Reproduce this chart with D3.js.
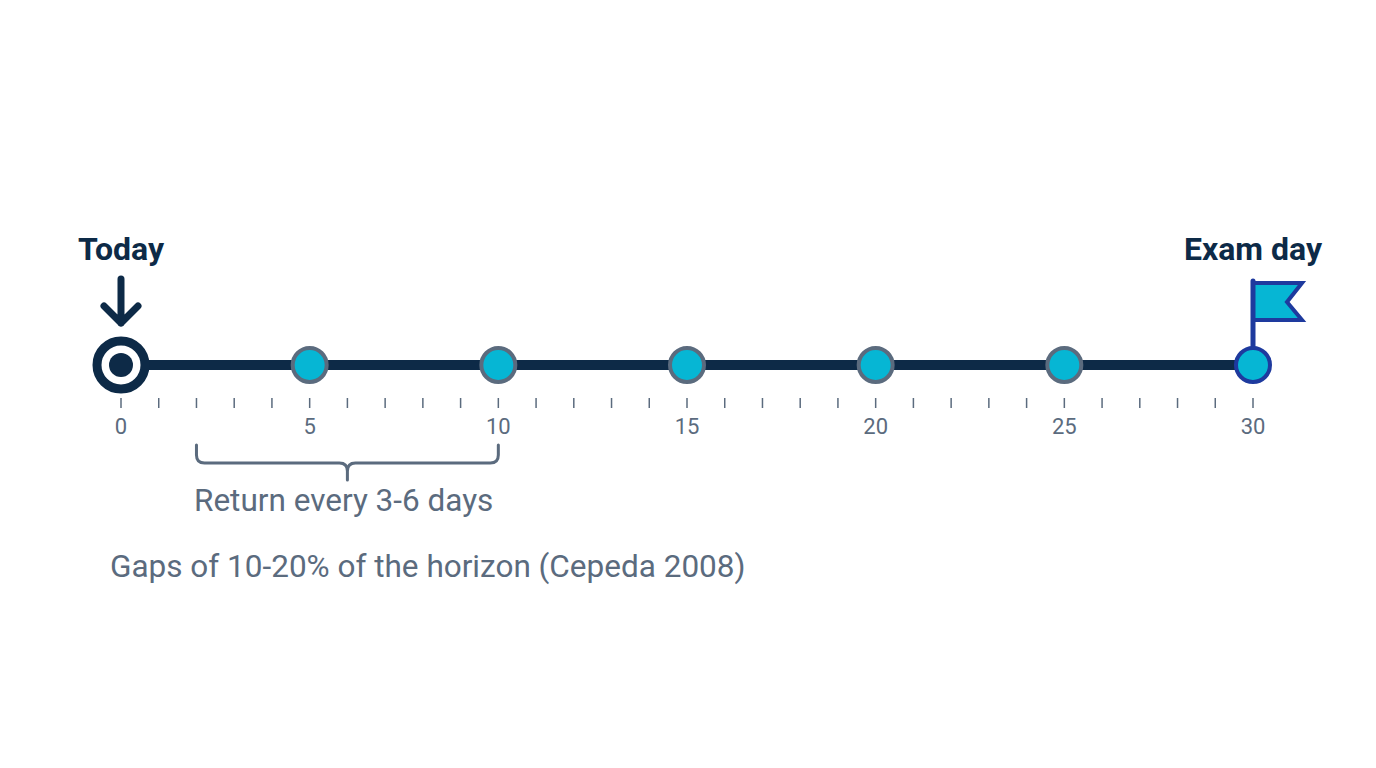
<!DOCTYPE html>
<html><head><meta charset="utf-8">
<script src="https://cdn.jsdelivr.net/npm/d3@7"></script>
<style>body{margin:0;background:#fff}svg{font-family:Roboto,sans-serif}</style>
</head><body><svg id="c" width="1376" height="768"></svg>
<script>
const days = d3.range(0, 31);
const tickLabels = [0, 5, 10, 15, 20, 25, 30];
const reviews = [5, 10, 15, 20, 25];
const today = 0, exam = 30;
const bracket = [2, 10];
const labels = {today: "Today", exam: "Exam day", bracket: "Return every 3-6 days", note: "Gaps of 10-20% of the horizon (Cepeda 2008)"};

const svg = d3.select("#c");
const x = d3.scaleLinear().domain([0, 30]).range([121, 1253]);
const y0 = 365, navy = "#0d2a47", grey = "#5b6b7e", cyan = "#06b6d4", blue = "#1e3a9e";

svg.append("line").attr("x1", x(0)).attr("x2", x(30)).attr("y1", y0).attr("y2", y0)
  .attr("stroke", navy).attr("stroke-width", 10);

svg.selectAll(".tk").data(days).enter().append("line")
  .attr("x1", d => x(d)).attr("x2", d => x(d)).attr("y1", 398).attr("y2", 408)
  .attr("stroke", grey).attr("stroke-width", 1.5);
svg.selectAll(".tl").data(tickLabels).enter().append("text")
  .attr("x", d => x(d)).attr("y", 434).attr("text-anchor", "middle")
  .attr("font-size", 22).attr("fill", grey).text(d => d);

svg.selectAll(".rv").data(reviews).enter().append("circle")
  .attr("cx", d => x(d)).attr("cy", y0).attr("r", 17)
  .attr("fill", cyan).attr("stroke", grey).attr("stroke-width", 4);

// today
svg.append("circle").attr("cx", x(today)).attr("cy", y0).attr("r", 24)
  .attr("fill", "#fff").attr("stroke", navy).attr("stroke-width", 9);
svg.append("circle").attr("cx", x(today)).attr("cy", y0).attr("r", 12).attr("fill", navy);
const ax = x(today);
svg.append("path").attr("d", `M${ax},279V323M${ax-17},306L${ax},323L${ax+17},306`)
  .attr("fill", "none").attr("stroke", navy).attr("stroke-width", 7)
  .attr("stroke-linecap", "round").attr("stroke-linejoin", "round");
svg.append("text").attr("x", ax).attr("y", 260).attr("text-anchor", "middle")
  .attr("font-size", 32).attr("font-weight", "bold").attr("fill", navy).text(labels.today);

// exam
const ex = x(exam);
svg.append("path").attr("d", `M${ex},283H${ex+49}L${ex+34},302L${ex+49},320H${ex}Z`)
  .attr("fill", cyan).attr("stroke", blue).attr("stroke-width", 4).attr("stroke-linejoin", "miter");
svg.append("line").attr("x1", ex).attr("x2", ex).attr("y1", 281).attr("y2", 350)
  .attr("stroke", blue).attr("stroke-width", 5).attr("stroke-linecap", "round");
svg.append("circle").attr("cx", ex).attr("cy", y0).attr("r", 17)
  .attr("fill", cyan).attr("stroke", blue).attr("stroke-width", 4);
svg.append("text").attr("x", ex).attr("y", 260).attr("text-anchor", "middle")
  .attr("font-size", 32).attr("font-weight", "bold").attr("fill", navy).text(labels.exam);

// bracket
const b0 = x(bracket[0]), b1 = x(bracket[1]), bm = (b0 + b1) / 2;
svg.append("path").attr("d",
  `M${b0},445V455Q${b0},463 ${b0+8},463H${bm-8}Q${bm},463 ${bm},471V480M${bm},471Q${bm},463 ${bm+8},463H${b1-8}Q${b1},463 ${b1},455V445`)
  .attr("fill", "none").attr("stroke", grey).attr("stroke-width", 3).attr("stroke-linecap", "round");
svg.append("text").attr("x", 194).attr("y", 511).attr("font-size", 31.5).attr("fill", grey).text(labels.bracket);
svg.append("text").attr("x", 110).attr("y", 577).attr("font-size", 31.5).attr("fill", grey).text(labels.note);
</script></body></html>
